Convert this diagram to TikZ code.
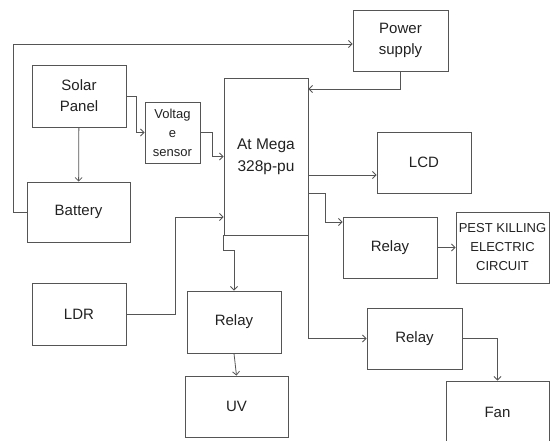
\documentclass[tikz,border=0pt]{standalone}
\usepackage{fontspec}
\setmainfont{Liberation Sans}
\usetikzlibrary{arrows.meta}
\definecolor{ln}{HTML}{555555}
\definecolor{tx}{HTML}{222222}
\tikzset{blk/.style={draw=ln,line width=0.9pt,text=tx,align=center,inner sep=1pt,
    font=\fontsize{15}{21}\selectfont},
  wire/.style={draw=ln,line width=0.8pt,-{Straight Barb[length=3.5pt,width=7pt]}}}
\begin{document}
\begin{tikzpicture}[x=1pt,y=-1pt]
\clip (0,0) rectangle (550,440);
\fill[white] (0,0) rectangle (550,440);
\node[blk,minimum width=94pt,minimum height=62pt] (solar) at (79,96) {Solar\\Panel};
\node[blk,minimum width=55pt,minimum height=61pt,font=\fontsize{13}{19}\selectfont] (volt) at (172.5,132.5) {Voltag\\e\\sensor};
\node[blk,minimum width=84pt,minimum height=157pt,font=\fontsize{15.5}{22}\selectfont] (mega) at (266,156.5) {At Mega\\328p-pu};
\node[blk,minimum width=95pt,minimum height=61pt] (power) at (400.5,40.5) {Power\\supply};
\node[blk,minimum width=103pt,minimum height=60pt] (battery) at (78.5,212) {Battery};
\node[blk,minimum width=94pt,minimum height=61pt] (lcd) at (424,162.5) {LCD};
\node[blk,minimum width=94pt,minimum height=61pt] (relayA) at (390,247.5) {Relay};
\node[blk,minimum width=93pt,minimum height=71pt,font=\fontsize{13}{19}\selectfont] (pest) at (502.5,247.5) {PEST KILLING\\ELECTRIC\\CIRCUIT};
\node[blk,minimum width=94pt,minimum height=62pt] (ldr) at (79,314) {LDR};
\node[blk,minimum width=94pt,minimum height=62pt] (relayB) at (234,322) {Relay};
\node[blk,minimum width=103pt,minimum height=61pt] (uv) at (236.5,406.5) {UV};
\node[blk,minimum width=95pt,minimum height=61pt] (relayC) at (414.5,338.5) {Relay};
\node[blk,minimum width=103pt,minimum height=62pt] (fan) at (497.5,412) {Fan};
% power path
\draw[wire] (battery.west) -- (13,212) |- (power.west |- 0,44);
\draw[wire] (power.south) |- (mega.east |- 0,89);
% inputs
\draw[wire] (solar) -- (battery);
\draw[wire] (solar.east) -- ++(10,0) |- (volt.west);
\draw[wire] (volt.east) -- ++(12,0) |- (mega.west);
\draw[wire] (ldr.east) -- ++(49,0) |- (mega.west |- 0,217);
% outputs
\draw[wire] (mega.east |- 0,175) -- (lcd.west |- 0,175);
\draw[wire] (mega.east |- 0,193) -- ++(17,0) |- (relayA.west |- 0,222);
\draw[wire] (relayA.east) -- (pest.west |- relayA.east);
\draw[wire] (mega.south east) |- (relayC.west);
\draw[wire] (relayC.east) -| (fan.north);
\draw[wire] (mega.south west) -- ++(0,15) -| (relayB.north);
\draw[wire] (relayB.south) -- (uv.north);
\end{tikzpicture}
\end{document}
